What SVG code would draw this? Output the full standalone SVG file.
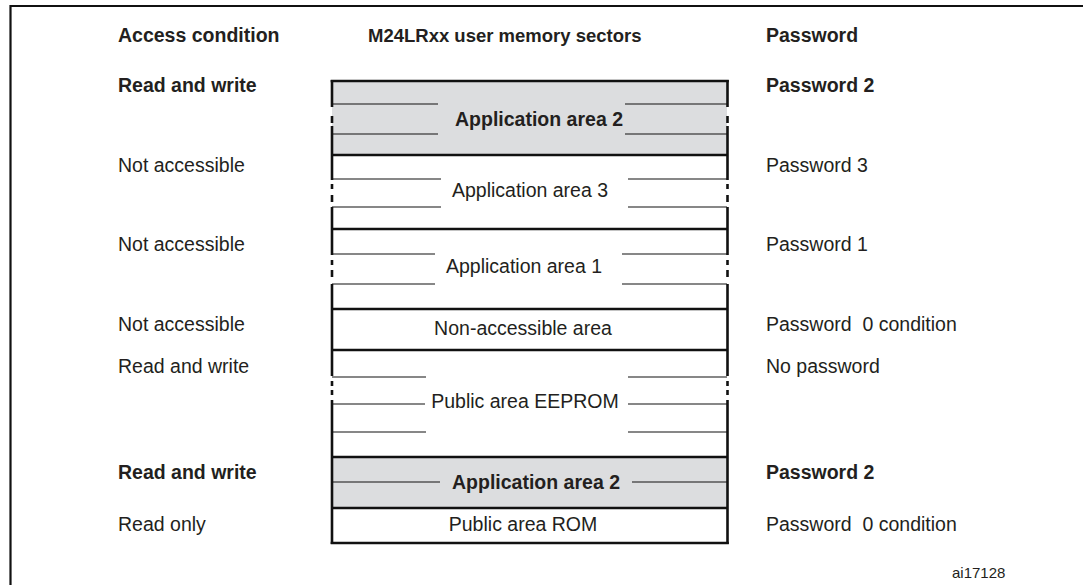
<svg xmlns="http://www.w3.org/2000/svg" width="1084" height="585" viewBox="0 0 1084 585">
  <style>
    text { font-family: "Liberation Sans", Arial, Helvetica, sans-serif; font-size: 19.5px; fill: #231f20; }
    .b { font-weight: bold; }
    .c { text-anchor: middle; }
    .sm { font-size: 15px; }
    .hd { font-size: 18.5px; }
    .thick { stroke: #111; stroke-width: 2.6; fill: none; }
    .thin { stroke: #111; stroke-width: 1.2; fill: none; }
    .grey { fill: #dcdddf; }
    .white { fill: #ffffff; }
  </style>

  <rect x="0" y="0" width="1084" height="585" fill="#ffffff"/>

  <!-- page frame -->
  <g id="frame">
    <path d="M10.5 585 V6 H1083" stroke="#111" stroke-width="2.2" fill="none"/>
  </g>

  <!-- column headings -->
  <g id="headings">
    <text class="b" x="118" y="42">Access condition</text>
    <text class="b hd" x="368" y="42">M24LRxx user memory sectors</text>
    <text class="b" x="766" y="42">Password</text>
  </g>

  <!-- memory sectors -->
  <g id="sector-app2-top">
    <rect class="grey" x="332" y="81" width="395" height="74"/>
    <path class="thin" d="M332 104 H438 M625 104 H727 M332 134 H438 M625 134 H727"/>
    <text class="b c" x="539" y="126">Application area 2</text>
  </g>
  <g id="sector-app3">
    <rect class="white" x="332" y="155" width="395" height="74"/>
    <path class="thin" d="M332 179 H441 M628 179 H727 M332 207 H441 M628 207 H727"/>
    <text class="c" x="530" y="197">Application area 3</text>
  </g>
  <g id="sector-app1">
    <rect class="white" x="332" y="229" width="395" height="80"/>
    <path class="thin" d="M332 254 H435 M622 254 H727 M332 284 H435 M622 284 H727"/>
    <text class="c" x="524" y="273">Application area 1</text>
  </g>
  <g id="sector-nonaccessible">
    <rect class="white" x="332" y="309" width="395" height="41"/>
    <text class="c" x="523" y="335">Non-accessible area</text>
  </g>
  <g id="sector-eeprom">
    <rect class="white" x="332" y="350" width="395" height="107"/>
    <path class="thin" d="M332 377 H426 M628 377 H727 M332 404 H425 M628 404 H727 M332 432 H426 M628 432 H727"/>
    <text class="c" x="525" y="408">Public area EEPROM</text>
  </g>
  <g id="sector-app2-bottom">
    <rect class="grey" x="332" y="457" width="395" height="51"/>
    <path class="thin" d="M332 482 H440 M632 482 H727"/>
    <text class="b c" x="536" y="489">Application area 2</text>
  </g>
  <g id="sector-rom">
    <rect class="white" x="332" y="508" width="395" height="35"/>
    <text class="c" x="523" y="531">Public area ROM</text>
  </g>

  <!-- sector boundaries and broken side edges -->
  <g id="sector-outline">
    <path class="thick" d="M330.7 81 H728.8 M331 155 H728 M331 229 H728 M331 309 H728 M331 350 H728 M331 457 H728 M331 508 H728 M330.7 543 H728.8"/>
    <path class="thick" d="M332 80 V107 M332 116 V123 M332 126 V180 M332 184 V189 M332 195 V202 M332 207 V255 M332 260 V265 M332 270 V277 M332 284 V376 M332 381 V386 M332 390 V395 M332 400 V544"/>
    <path class="thick" d="M727.5 80 V107 M727.5 116 V123 M727.5 126 V180 M727.5 184 V189 M727.5 195 V202 M727.5 207 V255 M727.5 260 V265 M727.5 270 V277 M727.5 284 V376 M727.5 381 V386 M727.5 390 V395 M727.5 400 V544"/>
  </g>

  <!-- access conditions -->
  <g id="access-labels">
    <text class="b" x="118" y="92">Read and write</text>
    <text x="118" y="172">Not accessible</text>
    <text x="118" y="251">Not accessible</text>
    <text x="118" y="331">Not accessible</text>
    <text x="118" y="373">Read and write</text>
    <text class="b" x="118" y="479">Read and write</text>
    <text x="118" y="531">Read only</text>
  </g>

  <!-- passwords -->
  <g id="password-labels">
    <text class="b" x="766" y="92">Password 2</text>
    <text x="766" y="172">Password 3</text>
    <text x="766" y="251">Password 1</text>
    <text x="766" y="331" xml:space="preserve">Password  0 condition</text>
    <text x="766" y="373">No password</text>
    <text class="b" x="766" y="479">Password 2</text>
    <text x="766" y="531" xml:space="preserve">Password  0 condition</text>
  </g>

  <g id="figure-id">
    <text class="sm" x="952" y="578">ai17128</text>
  </g>
</svg>
